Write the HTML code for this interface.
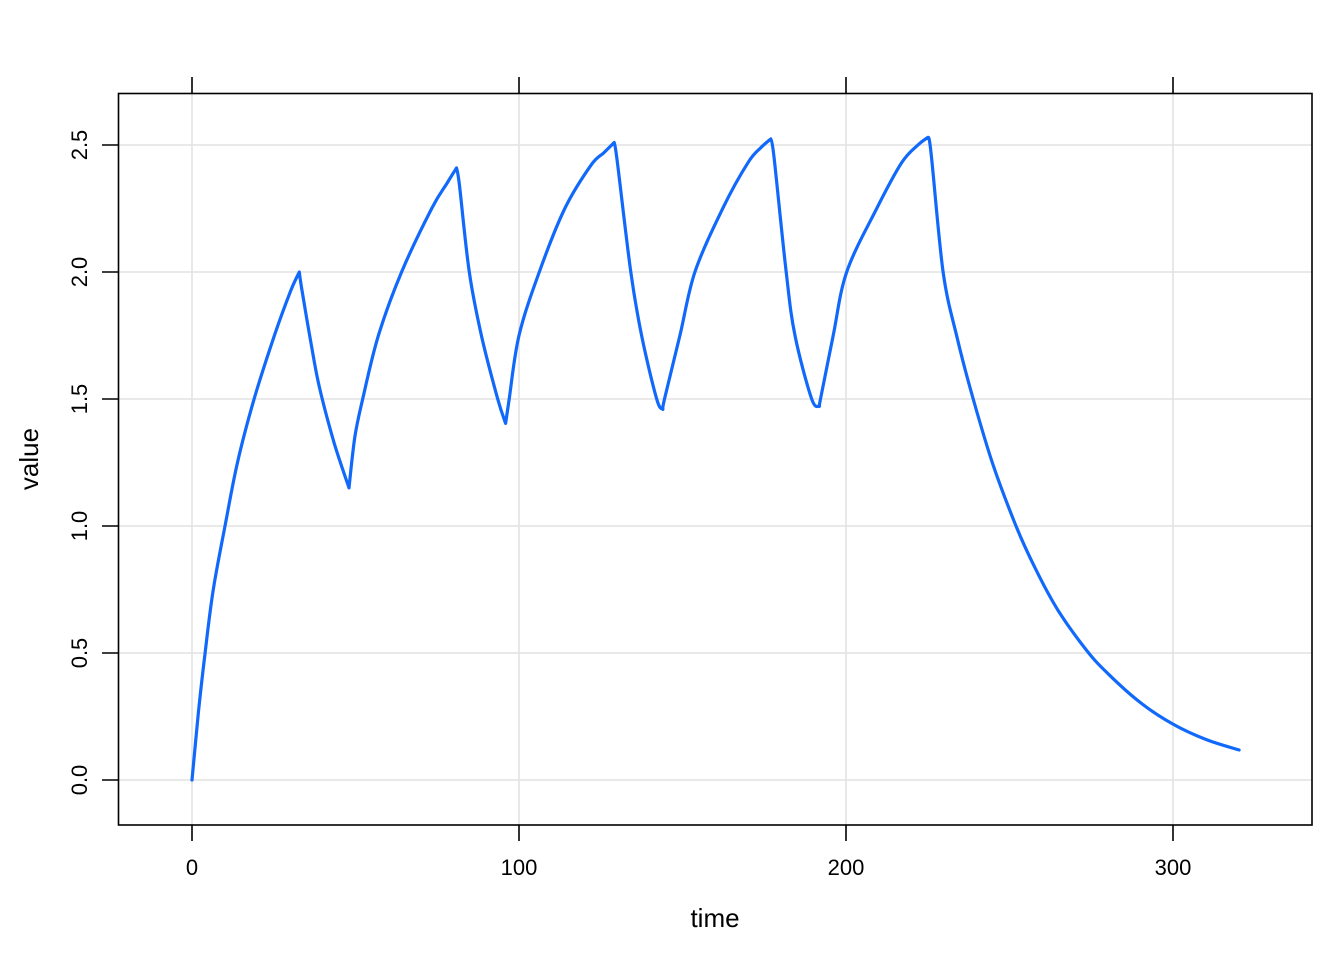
<!DOCTYPE html>
<html><head><meta charset="utf-8"><style>
html,body{margin:0;padding:0;background:#fff;}
svg{display:block;font-family:"Liberation Sans",Arial,sans-serif;}
</style></head><body>
<svg id="chart" width="1344" height="960" viewBox="0 0 1344 960" xmlns="http://www.w3.org/2000/svg">
<g id="grid"></g>
<g id="series"></g>
<rect x="118.5" y="93.5" width="1193.5" height="731.5" fill="none" stroke="#000" stroke-width="1.6"/>
<g id="axes"></g>
<text x="715" y="927" font-size="26" text-anchor="middle">time</text>
<text transform="translate(38,459) rotate(-90)" font-size="26" text-anchor="middle">value</text>
</svg>
<script>
const xTicks = [0, 100, 200, 300];
const yTicks = [0, 0.5, 1, 1.5, 2, 2.5];
const yTickLabels = ["0.0", "0.5", "1.0", "1.5", "2.0", "2.5"];
const times = [0,2,4,6.5,10.1,13.9,19,25.2,30,32.8,33.6,36.4,38.9,43.4,48,
  49.8,52.2,57,64.1,73.3,78,80.9,81.8,84.8,88.5,93.5,95.9,
  97.0,100,106.2,114,122,126,129.1,130,134.2,137.5,142.1,144,
  144.5,149.2,153.8,162.3,170,174,177,178,181.7,184.4,189.5,191.9,
  192.2,196.1,200.2,209.4,217,222,225,226,229.7,234,238.9,245,252,258,265,273.6,280,290,300,310,320.2];
const values = [0,0.27,0.5,0.75,1.0,1.25,1.5,1.75,1.92,2.0,1.93,1.72,1.55,1.33,1.15,
  1.35,1.5,1.75,2.0,2.25,2.35,2.41,2.34,2.0,1.75,1.5,1.404,
  1.5,1.75,2.0,2.25,2.42,2.47,2.51,2.44,2.0,1.75,1.5,1.459,
  1.5,1.75,2.0,2.25,2.43,2.49,2.524,2.45,2.0,1.75,1.5,1.472,
  1.5,1.75,2.0,2.25,2.43,2.5,2.53,2.47,2.0,1.74,1.5,1.24,1.0,0.83,0.665,0.51,0.42,0.305,0.22,0.16,0.118];

const NS = "http://www.w3.org/2000/svg";
const X0=118.5, X1=1312, Y0=93.5, Y1=825;
function xs(t){ return 192 + t*3.27; }
function ys(v){ return 780 - v*254; }
function mk(tag, attrs, parent){
  const e=document.createElementNS(NS,tag);
  for(const k in attrs) e.setAttribute(k,attrs[k]);
  parent.appendChild(e); return e;
}
const grid=document.getElementById('grid'), axes=document.getElementById('axes'), series=document.getElementById('series');
xTicks.forEach((t,i)=>{
  const x=xs(t);
  const g=mk('line',{x1:x,x2:x,y1:Y0,y2:Y1,stroke:'#e2e2e2','stroke-width':1.6},grid);
  
  
  const tt=mk('line',{x1:x,x2:x,y1:77,y2:Y0,stroke:'#000','stroke-width':1.6},axes);
  
  
  const tb=mk('line',{x1:x,x2:x,y1:Y1,y2:841,stroke:'#000','stroke-width':1.6},axes);
  
  
  const lab=mk('text',{x:x,y:875,'font-size':22,'text-anchor':'middle'},axes);
  lab.textContent=String(t);
  
  
});
yTicks.forEach((v,i)=>{
  const y=ys(v);
  const g=mk('line',{x1:X0,x2:X1,y1:y,y2:y,stroke:'#e2e2e2','stroke-width':1.6},grid);
  
  
  const tk=mk('line',{x1:102,x2:X0,y1:y,y2:y,stroke:'#000','stroke-width':1.6},axes);
  
  
  const lab=mk('text',{transform:`translate(87,${y}) rotate(-90)`,'font-size':22,'text-anchor':'middle'},axes);
  lab.textContent=yTickLabels[i];
  
  
});
// split into monotone segments, draw each smoothly (Catmull-Rom)
const P=times.map((t,i)=>[xs(t),ys(values[i])]);
const segs=[]; let cur=[P[0]];
for(let i=1;i<P.length;i++){
  cur.push(P[i]);
  if(i<P.length-1){
    const d1=values[i]-values[i-1], d2=values[i+1]-values[i];
    if(d1*d2<0){ segs.push(cur); cur=[P[i]]; }
  }
}
segs.push(cur);
let d='M'+P[0][0].toFixed(1)+','+P[0][1].toFixed(1);
segs.forEach(s=>{
  for(let i=0;i<s.length-1;i++){
    const p0=s[Math.max(0,i-1)], p1=s[i], p2=s[i+1], p3=s[Math.min(s.length-1,i+2)];
    const c1=[p1[0]+(p2[0]-p0[0])/6, p1[1]+(p2[1]-p0[1])/6];
    const c2=[p2[0]-(p3[0]-p1[0])/6, p2[1]-(p3[1]-p1[1])/6];
    d+=' C'+c1[0].toFixed(1)+','+c1[1].toFixed(1)+' '+c2[0].toFixed(1)+','+c2[1].toFixed(1)+' '+p2[0].toFixed(1)+','+p2[1].toFixed(1);
  }
});
const line=mk('path',{d:d,fill:'none',stroke:'#1169fb','stroke-width':3.2,'stroke-linejoin':'round','stroke-linecap':'round'},series);


</script>
</body></html>
